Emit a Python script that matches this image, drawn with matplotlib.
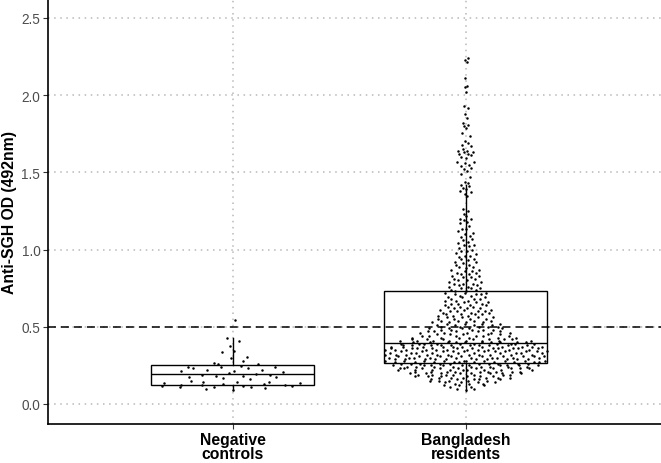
import numpy as np
import matplotlib.pyplot as plt

plt.rcParams['font.family'] = ['Liberation Sans', 'DejaVu Sans']

# categories
groups = ["Negative\ncontrols", "Bangladesh\nresidents"]
cutoff = 0.5

# negative controls, read one by one
neg_controls = [0.544, 0.427, 0.41, 0.378, 0.345, 0.335, 0.302, 0.296, 0.276,
                0.268, 0.26, 0.257, 0.245, 0.242, 0.24, 0.238, 0.236, 0.234,
                0.22, 0.218, 0.215, 0.213, 0.21, 0.2, 0.195, 0.19, 0.185,
                0.18, 0.178, 0.175, 0.172, 0.17, 0.16, 0.15, 0.145, 0.142,
                0.14, 0.138, 0.135, 0.13, 0.127, 0.125, 0.123, 0.12, 0.118,
                0.116, 0.114, 0.112, 0.11, 0.108, 0.105, 0.1, 0.09]

# bangladesh residents: counts per 0.01 step from 0.09 to 1.09
bd_start = 0.09
bd_counts = [1, 2,                      # 0.09-0.10
             2, 3, 3, 4,                # 0.11-0.14
             5, 5, 6, 6, 7,             # 0.15-0.19
             8, 9, 9, 10, 9,            # 0.20-0.24
             10, 10, 10, 10, 10,        # 0.25-0.29
             10, 10, 11, 10, 11,        # 0.30-0.34
             11, 11, 11, 10, 10,        # 0.35-0.39
             10, 8, 7, 6, 6,            # 0.40-0.44
             5, 5, 5, 5, 5,             # 0.45-0.49
             5, 4, 4, 4, 4,             # 0.50-0.54
             4, 4, 3, 4, 3,             # 0.55-0.59
             4, 3, 3, 3, 3,             # 0.60-0.64
             3, 3, 3, 3, 3,             # 0.65-0.69
             2, 3, 3, 2, 2,             # 0.70-0.74
             3, 2, 2, 3, 2,             # 0.75-0.79
             2, 2, 2, 2, 2,             # 0.80-0.84
             2, 2, 2, 1, 2,             # 0.85-0.89
             2, 1, 2, 1, 2,             # 0.90-0.94
             1, 2, 1, 1, 2,             # 0.95-0.99
             1, 1, 1, 2, 1,             # 1.00-1.04
             1, 1, 1, 1, 1]             # 1.05-1.09
# sparse upper tail, read one by one
bd_tail = [1.10, 1.11, 1.12, 1.13, 1.13, 1.15, 1.17, 1.18, 1.19, 1.20, 1.20,
           1.22, 1.23, 1.25, 1.26, 1.35, 1.36, 1.37, 1.38, 1.39, 1.40, 1.41,
           1.42, 1.43, 1.44, 1.47, 1.49, 1.51, 1.52, 1.53, 1.54, 1.55, 1.56,
           1.57, 1.57, 1.59, 1.60, 1.61, 1.62, 1.62, 1.63, 1.63, 1.64, 1.64,
           1.65, 1.67, 1.68, 1.69, 1.705, 1.734, 1.753, 1.79, 1.80, 1.807,
           1.82, 1.85, 1.878, 1.915, 1.928, 2.02, 2.055, 2.06, 2.109, 2.217,
           2.23, 2.243]

# box summaries as drawn
box_q1 = [0.126, 0.264]
box_med = [0.192, 0.395]
box_q3 = [0.2545, 0.730]
whis_lo = [0.09, 0.086]
whis_hi = [0.427, 1.42]


def van_der_corput(n, base=2):
    out = np.zeros(n)
    for i in range(1, n + 1):
        k, denom, q = i, 1.0, 0.0
        while k:
            denom *= base
            k, r = divmod(k, base)
            q += r / denom
        out[i - 1] = q
    return out


def quasi_offsets(y, width=0.36, adjust=0.5):
    # quasirandom offsets like ggbeeswarm
    y = np.asarray(y, float)
    n = len(y)
    sd = y.std(ddof=1)
    iqr = np.subtract(*np.percentile(y, [75, 25]))
    bw = 0.9 * min(sd, iqr / 1.34) * n ** -0.2 * adjust
    grid = np.linspace(y.min() - 3 * bw, y.max() + 3 * bw, 512)
    dens = np.exp(-0.5 * ((grid[:, None] - y[None, :]) / bw) ** 2).sum(axis=1)
    dens_y = np.interp(y, grid, dens) / dens.max()
    order = np.argsort(y, kind="stable")
    ranks = np.empty(n, int)
    ranks[order] = np.arange(n)
    q = van_der_corput(n)[ranks]
    return (q - 0.5) * 2 * dens_y * width


bd_levels = bd_start + 0.01 * np.arange(len(bd_counts))
bd_values = np.concatenate([np.repeat(bd_levels, bd_counts), bd_tail])
data = [np.array(neg_controls), bd_values]

fig = plt.figure(figsize=(6.61, 4.64), dpi=100)
ax = fig.add_axes([0.0726, 0.084, 0.9274, 0.916])

for v in [0, 0.5, 1.0, 1.5, 2.0, 2.5]:
    ax.axhline(v, color="#b8b8b8", lw=1.1, ls=(0, (1, 3.0)), zorder=0)
for x in [1, 2]:
    ax.axvline(x, color="#b8b8b8", lw=1.1, ls=(0, (1, 3.0)), zorder=0)

stats = []
for i in range(2):
    stats.append(dict(med=box_med[i], q1=box_q1[i], q3=box_q3[i],
                      whislo=whis_lo[i], whishi=whis_hi[i], fliers=[]))
ax.bxp(stats, positions=[1, 2], widths=0.7, showcaps=False, showfliers=False,
       patch_artist=True,
       boxprops=dict(facecolor="white", edgecolor="black", lw=1.0),
       medianprops=dict(color="black", lw=1.0),
       whiskerprops=dict(color="black", lw=1.0),
       zorder=2)

for i, vals in enumerate(data):
    xs = i + 1 + quasi_offsets(vals)
    ax.scatter(xs, vals, s=3.2, color="black", lw=0, zorder=3)

ax.axhline(cutoff, color="black", lw=1.1, ls=(0, (5.2, 3.3)), zorder=4)

ax.set_xlim(0.206, 2.84)
ax.set_ylim(-0.13, 2.623)
ax.set_xticks([1, 2])
ax.set_xticklabels(groups, fontsize=11.3, fontweight="bold", linespacing=0.95)
ax.set_yticks([0, 0.5, 1.0, 1.5, 2.0, 2.5])
ax.set_yticklabels(["0.0", "0.5", "1.0", "1.5", "2.0", "2.5"],
                   fontsize=9.8, color="#4d4d4d")
ax.tick_params(length=3.5, width=0.8, color="#333333", pad=2)
ax.set_ylabel("Anti-SGH OD (492nm)", fontsize=11.3, fontweight="bold", labelpad=3)

for s in ["top", "right"]:
    ax.spines[s].set_visible(False)
for s in ["left", "bottom"]:
    ax.spines[s].set_linewidth(1.2)

fig.savefig("out.png", dpi=100)
